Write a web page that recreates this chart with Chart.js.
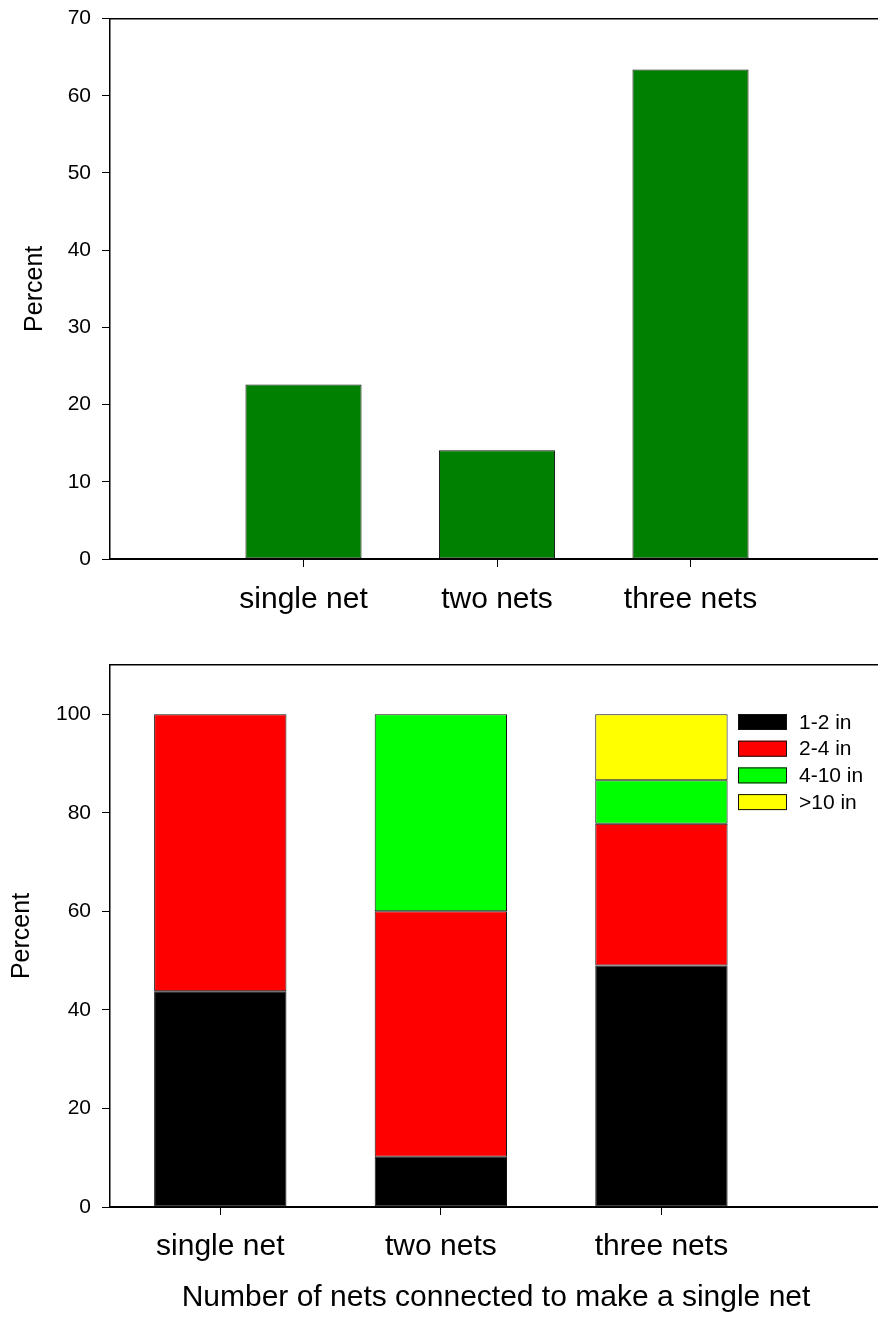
<!DOCTYPE html>
<html>
<head>
<meta charset="utf-8">
<script src="https://cdn.jsdelivr.net/npm/chart.js@4.4.1/dist/chart.umd.min.js"></script>
<style>
  html, body { margin: 0; padding: 0; background: #fff; overflow: hidden; }
  #page { position: relative; width: 878px; height: 1319px; overflow: hidden; background: #fff; }
  #topWrap { position: absolute; left: 0; top: -5px; }
  #bottomWrap { position: absolute; left: 0; top: 640px; }
  canvas { display: block; }
</style>
</head>
<body>
<div id="page">
  <div id="topWrap"><canvas id="topChart" width="884" height="645" style="width:884px;height:645px"></canvas></div>
  <div id="bottomWrap"><canvas id="bottomChart" width="882" height="679" style="width:882px;height:679px"></canvas></div>
</div>
<script>
// ---- data ----
const categories = ['single net', 'two nets', 'three nets'];

// share of nets by how many were joined together
const netPercent = [22.6, 14.1, 63.4];

// mesh size composition within each group (percent)
const size1to2  = [43.8, 10.2, 49.0];
const size2to4  = [56.2, 49.8, 28.8];
const size4to10 = [null, 40.0, 8.8];
const sizeOver10 = [null, null, 13.4];
const sizeLabels = ['1-2 in', '2-4 in', '4-10 in', '>10 in'];

const topTicks = [0, 10, 20, 30, 40, 50, 60, 70];
const bottomTicks = [0, 20, 40, 60, 80, 100];

// ---- shared look ----
const FONT = "'Liberation Sans', Arial, Helvetica, sans-serif";
Chart.defaults.font.family = FONT;
Chart.defaults.color = '#000';

const fixedTicks = (values) => (scale) => { scale.ticks = values.map(v => ({ value: v })); };
const fixWidth = (w) => (scale) => { scale.width = w; };
const fixHeight = (h) => (scale) => { scale.height = h; };

function yAxis(ticks, max, titlePadTop) {
  return {
    type: 'linear',
    position: 'left',
    min: 0,
    max: max,
    afterBuildTicks: fixedTicks(ticks),
    afterFit: fixWidth(110),
    ticks: { font: { size: 21 }, padding: 11, color: '#000' },
    grid: { display: true, drawOnChartArea: false, drawTicks: true, tickLength: 8, color: '#000', lineWidth: 1 },
    border: { display: true, color: '#000', width: 1.5 },
    title: { display: true, text: 'Percent', font: { size: 25 }, color: '#000', padding: { top: titlePadTop, bottom: 0 } }
  };
}

function xAxis(min, max, positions, labelPad, height, title) {
  return {
    type: 'linear',
    position: 'bottom',
    min: min,
    max: max,
    offset: false,
    afterBuildTicks: fixedTicks(positions),
    afterFit: fixHeight(height),
    ticks: {
      font: { size: 30 }, padding: labelPad, color: '#000', autoSkip: false, maxRotation: 0,
      callback: (v) => categories[positions.indexOf(v)]
    },
    grid: { display: true, offset: false, drawOnChartArea: false, drawTicks: true, tickLength: 8, color: '#000', lineWidth: 1 },
    border: { display: true, color: '#000', width: 2 },
    title: title
  };
}

// thin frame line across the top of the plot
const frameTop = {
  type: 'linear', position: 'top', min: 0, max: 1,
  afterFit: fixHeight(0),
  ticks: { display: false },
  grid: { display: false },
  border: { display: true, color: '#000', width: 1.5 }
};

// ---- top chart: single series ----
const topPositions = categories.map((c, i) => i + 1);
new Chart(document.getElementById('topChart'), {
  type: 'bar',
  data: {
    datasets: [{
      label: 'Percent',
      data: categories.map((c, i) => ({ x: topPositions[i], y: netPercent[i] })),
      backgroundColor: '#008000',
      borderColor: '#111',
      borderWidth: 1,
      borderSkipped: false,
      barPercentage: 0.6,
      categoryPercentage: 1
    }]
  },
  options: {
    responsive: false,
    animation: false,
    devicePixelRatio: 1,
    layout: { padding: { top: 23, left: 0, right: 0, bottom: 0 } },
    plugins: { legend: { display: false }, tooltip: { enabled: false } },
    scales: {
      x: xAxis(0, 4, topPositions, 15, 81, { display: false }),
      xTop: frameTop,
      y: yAxis(topTicks, 70, 20)
    }
  }
});

// ---- bottom chart: stacked composition ----
const bottomPositions = categories.map((c, i) => i + 0.5);
const sizeSeries = [size1to2, size2to4, size4to10, sizeOver10];
const sizeColors = ['#000000', '#ff0000', '#00ff00', '#ffff00'];

// legend drawn inside the plot, top right
const insideLegend = {
  id: 'insideLegend',
  afterDraw(chart) {
    const { ctx, chartArea } = chart;
    const boxX = chartArea.left + 628;
    const boxW = 49, boxH = 16, rowStep = 26.7;
    const firstY = chartArea.top + 49;
    ctx.save();
    ctx.font = '21px ' + FONT;
    ctx.textBaseline = 'middle';
    ctx.textAlign = 'left';
    chart.data.datasets.forEach((ds, i) => {
      const y = firstY + i * rowStep;
      ctx.fillStyle = ds.backgroundColor;
      ctx.fillRect(boxX, y, boxW, boxH);
      ctx.lineWidth = 1;
      ctx.strokeStyle = '#111';
      ctx.strokeRect(boxX + 0.5, y + 0.5, boxW - 1, boxH - 1);
      ctx.fillStyle = '#000';
      ctx.fillText(ds.label, boxX + boxW + 12, y + boxH / 2 + 1);
    });
    ctx.restore();
  }
};

new Chart(document.getElementById('bottomChart'), {
  type: 'bar',
  data: {
    datasets: sizeSeries.map((series, k) => ({
      label: sizeLabels[k],
      data: categories.map((c, i) => ({ x: bottomPositions[i], y: series[i] })),
      backgroundColor: sizeColors[k],
      borderColor: '#111',
      borderWidth: 1,
      borderSkipped: false,
      barPercentage: 0.6,
      categoryPercentage: 1
    }))
  },
  options: {
    responsive: false,
    animation: false,
    devicePixelRatio: 1,
    layout: { padding: { top: 25, left: 0, right: 0, bottom: 0 } },
    plugins: { legend: { display: false }, tooltip: { enabled: false } },
    scales: {
      x: Object.assign(
        xAxis(0, 3.5, bottomPositions, 14, 112, {
          display: true,
          text: 'Number of nets connected to make a single net',
          font: { size: 30 },
          color: '#000',
          padding: { top: 0, bottom: 3 }
        }),
        { stacked: true }
      ),
      xTop: frameTop,
      y: Object.assign(yAxis(bottomTicks, 110, 7), { stacked: true })
    }
  },
  plugins: [insideLegend]
});
</script>
</body>
</html>
